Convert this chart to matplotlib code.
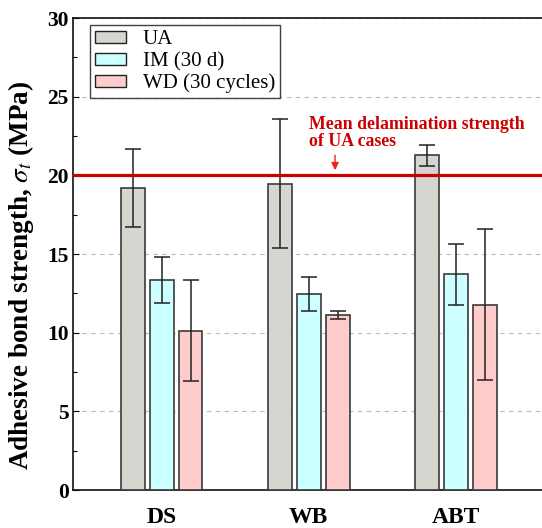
import matplotlib
matplotlib.use("Agg")
import matplotlib.pyplot as plt
from matplotlib.patches import Patch
import numpy as np

plt.rcParams["mathtext.fontset"] = "stix"

categories = ["DS", "WB", "ABT"]
series = ["UA", "IM (30 d)", "WD (30 cycles)"]
ua_mean = [19.18, 19.45, 21.27]
ua_err = [2.48, 4.10, 0.68]
im_mean = [13.33, 12.44, 13.71]
im_err = [1.46, 1.08, 1.95]
wd_mean = [10.13, 11.12, 11.76]
wd_err = [3.20, 0.24, 4.80]
ua_reference = 20.0
yticks = [0, 5, 10, 15, 20, 25, 30]

colors = ["#d4d6d0", "#ccffff", "#ffcccc"]

W, H = 542, 528
fig = plt.figure(figsize=(W / 100, H / 100), dpi=100)
left, right, top, bottom = 73, 548, 18, 490
ax = fig.add_axes([left / W, 1 - bottom / H, (right - left) / W, (bottom - top) / H])

serif = ["Liberation Serif", "DejaVu Serif"]

x = np.arange(len(categories))
offset = 0.197
width = 0.163
means = [ua_mean, im_mean, wd_mean]
errs = [ua_err, im_err, wd_err]
for i, (m, e, c) in enumerate(zip(means, errs, colors)):
    ax.bar(x + (i - 1) * offset, m, width=width, color=c, edgecolor="#3a3a3a",
           linewidth=1.2, zorder=3)
    ax.errorbar(x + (i - 1) * offset, m, yerr=e, fmt="none", ecolor="#222222",
                elinewidth=1.1, capsize=6, capthick=1.1, zorder=4)

ax.axhline(ua_reference, color="#cc0000", lw=2.3, zorder=5)

ax.set_ylim(0, 30)
ax.set_xlim(-0.602, 2.628)
ax.set_yticks(yticks)
ax.set_yticks(np.arange(0, 30.1, 2.5), minor=True)
ax.set_yticklabels([str(t) for t in yticks], fontfamily=serif, fontweight="bold", fontsize=15.5)
ax.set_xticks(x)
ax.set_xticklabels(categories, fontfamily=serif, fontweight="bold", fontsize=17)
ax.tick_params(axis="x", length=0, pad=12)
ax.tick_params(axis="y", which="both", direction="in", length=4, width=0.8, pad=3)
ax.tick_params(axis="y", which="minor", length=3)
ax.yaxis.grid(True, which="major", linestyle=(0, (4, 4)), color="#bbbbbb", lw=0.8, zorder=0)
ax.set_axisbelow(True)
ax.spines["right"].set_visible(False)
for s in ["left", "top", "bottom"]:
    ax.spines[s].set_linewidth(1.2)
    ax.spines[s].set_color("#111111")

ax.set_ylabel(r"Adhesive bond strength, $\boldsymbol{\sigma_t}$ (MPa)", fontfamily=serif,
              fontweight="bold", fontsize=19.5)
ax.yaxis.set_label_coords(-0.078, 0.455)

handles = [Patch(facecolor=c, edgecolor="#222222", lw=1.0) for c in colors]
leg = ax.legend(handles, series, loc="upper left", bbox_to_anchor=(0.035, 0.985),
                prop={"family": serif, "size": 15}, frameon=True, fancybox=False,
                edgecolor="#111111", handlelength=1.5, handleheight=0.5,
                borderpad=0.25, labelspacing=0.12, handletextpad=0.8, borderaxespad=0)
leg.get_frame().set_linewidth(1.0)
leg.set_zorder(6)

ax.text(1.0, 22.67, "Mean delamination strength\nof UA cases", color="#cc0000",
        fontfamily=serif, fontweight="bold", fontsize=12.8, ha="left", va="center",
        linespacing=1.0, zorder=6)
ax.annotate("", xy=(1.18, 20.15), xytext=(1.18, 21.45),
            arrowprops=dict(arrowstyle="-|>", color="#ee2222", lw=1.0,
                            mutation_scale=11), zorder=6)

fig.savefig("out.png", dpi=100)
